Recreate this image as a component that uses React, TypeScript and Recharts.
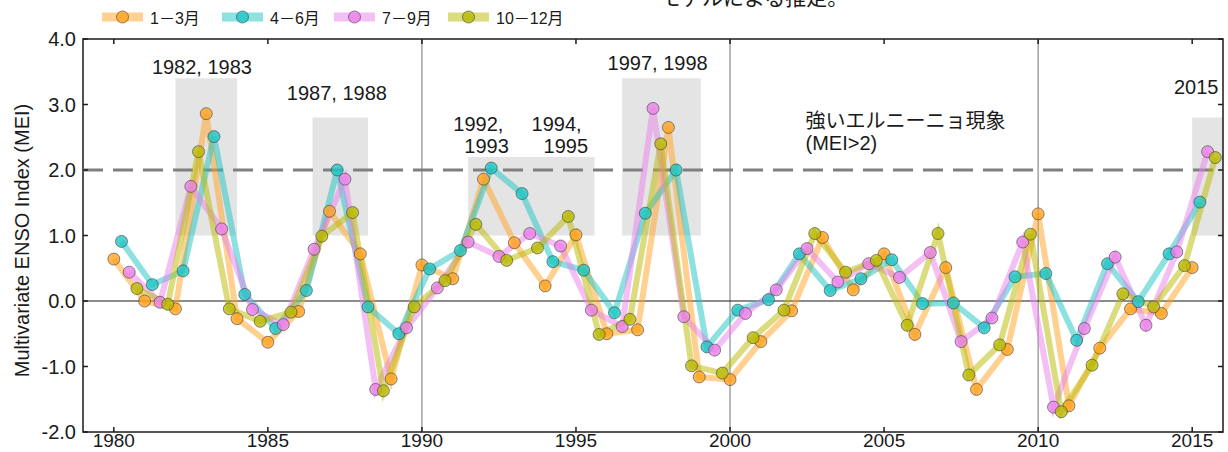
import React from "react";
import {
  LineChart,
  Line,
  XAxis,
  YAxis,
  ReferenceArea,
  ReferenceLine,
  ReferenceDot,
} from "recharts";

const FIRST_YEAR = 1980;

// MEI per quarter, 1980-2015
const JAN_MAR = [
  0.64, 0.0, -0.12, 2.86, -0.27, -0.63, -0.16, 1.37, 0.72, -1.19,
  0.55, 0.34, 1.86, 0.89, 0.23, 1.01, -0.5, -0.44, 2.65, -1.16,
  -1.2, -0.62, -0.15, 0.97, 0.17, 0.72, -0.51, 0.51, -1.35, -0.74,
  1.33, -1.6, -0.72, -0.12, -0.19, 0.51,
];
const APR_JUN = [
  0.91, 0.25, 0.46, 2.51, 0.1, -0.42, 0.16, 2.0, -0.09, -0.5,
  0.49, 0.77, 2.03, 1.64, 0.6, 0.47, -0.18, 1.34, 2.0, -0.7,
  -0.14, 0.02, 0.72, 0.16, 0.34, 0.63, -0.04, -0.03, -0.41, 0.37,
  0.42, -0.6, 0.57, -0.01, 0.72, 1.51,
];
const JUL_SEP = [
  0.44, -0.02, 1.75, 1.1, -0.13, -0.36, 0.79, 1.86, -1.35, -0.41,
  0.2, 0.9, 0.68, 1.03, 0.84, -0.14, -0.39, 2.94, -0.24, -0.75,
  -0.19, 0.17, 0.8, 0.29, 0.57, 0.36, 0.74, -0.62, -0.26, 0.9,
  -1.62, -0.42, 0.67, -0.37, 0.75, 2.28,
];
const OCT_DEC = [
  0.19, -0.05, 2.28, -0.12, -0.31, -0.17, 0.99, 1.35, -1.37, -0.09,
  0.31, 1.17, 0.62, 0.81, 1.29, -0.51, -0.28, 2.4, -0.99, -1.1,
  -0.56, -0.14, 1.03, 0.44, 0.62, -0.37, 1.03, -1.13, -0.67, 1.02,
  -1.69, -0.98, 0.11, -0.09, 0.54, 2.19,
];

const SERIES = [
  { key: "jfm", name: "1－3月", color: "#ffa21f", shift: 0, values: JAN_MAR },
  { key: "amj", name: "4－6月", color: "#1cc4c4", shift: 0.25, values: APR_JUN },
  { key: "jas", name: "7－9月", color: "#ea80ea", shift: 0.5, values: JUL_SEP },
  { key: "ond", name: "10－12月", color: "#b9b900", shift: 0.75, values: OCT_DEC },
];

// strong El Nino periods (shaded boxes)
const EVENTS = [
  { x1: 1982, x2: 1984, y1: 1, y2: 3.4 },
  { x1: 1986.45, x2: 1988.25, y1: 1, y2: 2.8 },
  { x1: 1991.5, x2: 1995.6, y1: 1, y2: 2.2 },
  { x1: 1996.5, x2: 1999.05, y1: 1, y2: 3.4 },
  { x1: 2015, x2: 2016, y1: 1, y2: 2.8 },
];

const NOTES = [
  { t: 1982.86, v: 3.47, anchor: "middle", lines: [{ text: "1982, 1983", dx: 0 }] },
  { t: 1987.24, v: 3.07, anchor: "middle", lines: [{ text: "1987, 1988", dx: 0 }] },
  { t: 1991.02, v: 2.6, anchor: "start", lines: [{ text: "1992,", dx: 0 }, { text: "1993", dx: 11 }] },
  { t: 1993.56, v: 2.6, anchor: "start", lines: [{ text: "1994,", dx: 0 }, { text: "1995", dx: 12 }] },
  { t: 1997.65, v: 3.53, anchor: "middle", lines: [{ text: "1997, 1998", dx: 0 }] },
  { t: 2002.45, v: 2.64, anchor: "start", lines: [{ text: "強いエルニーニョ現象", dx: 0 }, { text: "(MEI>2)", dx: 0 }] },
  { t: 2015.13, v: 3.16, anchor: "middle", lines: [{ text: "2015", dx: 0 }] },
];

const X_DOMAIN = [1979, 2016];
const Y_DOMAIN = [-2, 4];
const X_TICKS = [1980, 1985, 1990, 1995, 2000, 2005, 2010, 2015];
const Y_TICKS = [-2, -1, 0, 1, 2, 3, 4];
const DECADES = [1990, 2000, 2010];
const STRONG_LEVEL = 2;

const W = 1228;
const H = 452;
const INK = "#1a1a1a";
const FONT = "'Liberation Sans', Arial, 'Noto Sans CJK JP', sans-serif";
const LEGEND_X = [102, 222, 334, 448];

// tick length in data units (about 5px on each axis)
const TICK_DX = 0.16;
const TICK_DY = 0.077;

function toPoints(values: number[], shift: number) {
  return values.map((v, i) => ({ t: FIRST_YEAR + i + shift, v }));
}

function Note(props: any) {
  const { cx, cy, note } = props;
  return (
    <text x={cx} y={cy} textAnchor={note.anchor} fontSize={20} fill={INK} fontFamily={FONT}>
      {note.lines.map((l: any, i: number) => (
        <tspan key={i} x={cx + l.dx} dy={i === 0 ? 0 : 22}>
          {l.text}
        </tspan>
      ))}
    </text>
  );
}

function AxisTitle(props: any) {
  const vb = props.viewBox || { x: 0, y: 39, width: 83, height: 393 };
  const x = vb.x + 29;
  const y = vb.y + vb.height / 2 + 5;
  return (
    <text
      x={x}
      y={y}
      transform={`rotate(-90 ${x} ${y})`}
      textAnchor="middle"
      fontSize={20}
      fill={INK}
      fontFamily={FONT}
    >
      Multivariate ENSO Index (MEI)
    </text>
  );
}

export default function App() {
  const yTickStyle = { fontSize: 20, fill: INK, fontFamily: FONT };
  const xTickStyle = { fontSize: 19, fill: INK, fontFamily: FONT };
  return (
    <div style={{ position: "absolute", left: 0, top: 0, width: W, height: H, background: "#fff" }}>
      <LineChart width={W} height={H} margin={{ top: 39, right: 5, bottom: 0, left: 0 }}>
        <XAxis
          type="number"
          dataKey="t"
          domain={X_DOMAIN}
          ticks={X_TICKS}
          interval={0}
          allowDataOverflow
          axisLine={false}
          tickLine={false}
          tickSize={0}
          tickMargin={2}
          height={20}
          tick={xTickStyle}
        />
        <YAxis
          type="number"
          dataKey="v"
          domain={Y_DOMAIN}
          ticks={Y_TICKS}
          interval={0}
          allowDataOverflow
          tickFormatter={(v: number) => v.toFixed(1)}
          axisLine={false}
          tickLine={false}
          tickSize={0}
          tickMargin={7}
          width={83}
          tick={yTickStyle}
          label={(p: any) => <AxisTitle {...p} />}
        />

        {EVENTS.map((e, i) => (
          <ReferenceArea
            key={`ev${i}`}
            x1={e.x1}
            x2={e.x2}
            y1={e.y1}
            y2={e.y2}
            fill="#e4e4e4"
            fillOpacity={1}
            stroke="none"
            ifOverflow="visible"
          />
        ))}
        {DECADES.map((d) => (
          <ReferenceLine key={`dec${d}`} x={d} stroke="#8a8a8a" strokeWidth={1.2} />
        ))}
        <ReferenceLine y={0} stroke={INK} strokeWidth={1.2} />
        <ReferenceLine y={STRONG_LEVEL} stroke="#7f7f7f" strokeWidth={3} strokeDasharray="20 10" />

        {SERIES.map((s) => (
          <Line
            key={s.key}
            name={s.name}
            data={toPoints(s.values, s.shift)}
            dataKey="v"
            type="linear"
            stroke={s.color}
            strokeOpacity={0.5}
            strokeWidth={6}
            dot={{
              r: 6,
              fill: s.color,
              fillOpacity: 0.78,
              stroke: "#333",
              strokeOpacity: 0.55,
              strokeWidth: 1,
            }}
            activeDot={false}
            isAnimationActive={false}
          />
        ))}

        {NOTES.map((n, i) => (
          <ReferenceDot
            key={`note${i}`}
            x={n.t}
            y={n.v}
            r={0}
            ifOverflow="visible"
            shape={(p: any) => <Note {...p} note={n} />}
          />
        ))}

        {/* inward ticks on all four sides */}
        {X_TICKS.map((t) => (
          <ReferenceLine
            key={`xb${t}`}
            segment={[{ x: t, y: Y_DOMAIN[0] }, { x: t, y: Y_DOMAIN[0] + TICK_DY }]}
            stroke={INK}
            strokeWidth={1.5}
          />
        ))}
        {X_TICKS.map((t) => (
          <ReferenceLine
            key={`xt${t}`}
            segment={[{ x: t, y: Y_DOMAIN[1] }, { x: t, y: Y_DOMAIN[1] - TICK_DY }]}
            stroke={INK}
            strokeWidth={1.5}
          />
        ))}
        {Y_TICKS.map((v) => (
          <ReferenceLine
            key={`yl${v}`}
            segment={[{ x: X_DOMAIN[0], y: v }, { x: X_DOMAIN[0] + TICK_DX, y: v }]}
            stroke={INK}
            strokeWidth={1.5}
          />
        ))}
        {Y_TICKS.map((v) => (
          <ReferenceLine
            key={`yr${v}`}
            segment={[{ x: X_DOMAIN[1], y: v }, { x: X_DOMAIN[1] - TICK_DX, y: v }]}
            stroke={INK}
            strokeWidth={1.5}
          />
        ))}
        <ReferenceArea
          x1={X_DOMAIN[0]}
          x2={X_DOMAIN[1]}
          y1={Y_DOMAIN[0]}
          y2={Y_DOMAIN[1]}
          fill="none"
          fillOpacity={0}
          stroke={INK}
          strokeWidth={1.5}
          ifOverflow="visible"
        />
      </LineChart>

      {/* legend and caption above the plot */}
      <svg
        width={W}
        height={36}
        style={{ position: "absolute", left: 0, top: 0, pointerEvents: "none" }}
      >
        {SERIES.map((s, i) => {
          const x = LEGEND_X[i];
          return (
            <g key={s.key}>
              <rect x={x} y={12.5} width={41} height={9} fill={s.color} fillOpacity={0.5} />
              <circle
                cx={x + 20.5}
                cy={17}
                r={6}
                fill={s.color}
                fillOpacity={0.78}
                stroke="#333"
                strokeOpacity={0.55}
              />
              <text x={x + 48} y={24} fontSize={16} fill={INK} fontFamily={FONT}>
                {s.name}
              </text>
            </g>
          );
        })}
        <text x={660} y={4.5} fontSize={21} fill={INK} fontFamily={FONT}>
          モデルによる推定。
        </text>
      </svg>
    </div>
  );
}
